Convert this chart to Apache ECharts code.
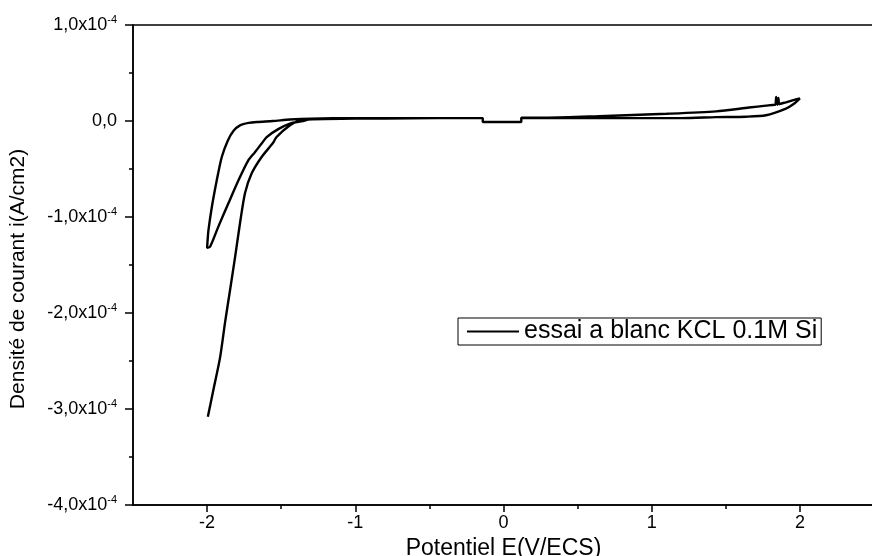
<!DOCTYPE html>
<html>
<head>
<meta charset="utf-8">
<script src="https://cdn.jsdelivr.net/npm/echarts@6/dist/echarts.min.js"></script>
<style>
html,body{margin:0;padding:0;background:#fff;}
#chart{width:872px;height:556px;}
</style>
</head>
<body>
<div id="chart"></div>
<script>
// Potential E (V/ECS) and current density (in units of 1e-4 A/cm2), three sweeps in scan order
const sweep1E = [0.12, -0.14, -0.14, -0.45, -0.8, -1.1, -1.3, -1.354, -1.441, -1.52, -1.598, -1.632, -1.68, -1.722, -1.789, -1.857, -1.924, -1.98, -2.0];
const sweep1I = [-0.01, -0.01, 0.03, 0.03, 0.025, 0.028, 0.02, 0.0, -0.027, -0.085, -0.167, -0.235, -0.33, -0.41, -0.62, -0.86, -1.10, -1.31, -1.32];

const sweep2E = [-2.0, -1.997, -1.991, -1.968, -1.935, -1.901, -1.859, -1.82, -1.778, -1.72, -1.665, -1.556, -1.441, -1.3, -1.0, -0.6, -0.14, -0.14, 0.12, 0.12, 0.4, 0.8, 1.2, 1.434, 1.636, 1.771, 1.906, 1.96, 2.0];
const sweep2I = [-1.32, -1.25, -1.14, -0.896, -0.62, -0.375, -0.20, -0.10, -0.045, -0.02, -0.01, 0.0, 0.015, 0.025, 0.03, 0.03, 0.03, -0.01, -0.01, 0.03, 0.03, 0.03, 0.03, 0.04, 0.045, 0.06, 0.13, 0.18, 0.236];

const sweep3E = [2.0, 1.95, 1.906, 1.87, 1.86, 1.855, 1.848, 1.84, 1.835, 1.83, 1.771, 1.657, 1.434, 1.1, 0.646, 0.3, 0.12, 0.12, -0.14, -0.14, -0.5, -1.0, -1.286, -1.374, -1.441, -1.531, -1.556, -1.632, -1.699, -1.744, -1.778, -1.811, -1.845, -1.879, -1.912, -1.958, -1.995];
const sweep3I = [0.236, 0.215, 0.195, 0.18, 0.175, 0.24, 0.17, 0.25, 0.17, 0.17, 0.16, 0.14, 0.10, 0.075, 0.05, 0.035, 0.035, -0.01, -0.01, 0.03, 0.03, 0.025, 0.018, 0.007, -0.045, -0.167, -0.23, -0.375, -0.545, -0.75, -1.065, -1.415, -1.76, -2.10, -2.46, -2.805, -3.08];

const xMajorTicks = [-2, -1, 0, 1, 2];
const xMinorTicks = [-1.5, -0.5, 0.5, 1.5];
const seriesName = 'essai a blanc KCL 0.1M Si';
const xTitle = 'Potentiel E(V/ECS)';
const yTitle = 'Densité de courant i(A/cm2)';

const data = [];
[[sweep1E, sweep1I], [sweep2E, sweep2I], [sweep3E, sweep3I]].forEach(([es, is]) => {
  es.forEach((e, k) => data.push([e, is[k]]));
});

const FONT = '"Liberation Sans", Arial, sans-serif';
const chart = echarts.init(document.getElementById('chart'));
chart.setOption({
  animation: false,
  backgroundColor: '#fff',
  grid: {left: 133, top: 25, width: 741, height: 480, outerBoundsMode: 'none', containLabel: false,
         show: true, borderColor: '#000', borderWidth: 1.5, backgroundColor: 'transparent'},
  legend: {
    left: 458, top: 318,
    borderColor: '#000', borderWidth: 1,
    padding: [1, 4, 1, 9],
    icon: 'rect', itemWidth: 52, itemHeight: 2,
    textStyle: {fontFamily: FONT, fontSize: 25, color: '#000'},
    data: [seriesName]
  },
  graphic: [{
    type: 'text', x: 18, y: 279, rotation: Math.PI / 2,
    style: {text: yTitle, fontFamily: FONT, fontSize: 21, fill: '#000', align: 'center', verticalAlign: 'middle'}
  }],
  xAxis: [{
    type: 'value', min: -2.5, max: 2.5,
    name: xTitle, nameLocation: 'middle', nameGap: 29,
    nameTextStyle: {fontFamily: FONT, fontSize: 23, color: '#000'},
    axisLine: {show: true, onZero: false, lineStyle: {color: '#000', width: 1.5}},
    axisTick: {show: true, length: 7, customValues: xMajorTicks, lineStyle: {color: '#000', width: 1.5}},
    axisLabel: {customValues: xMajorTicks, margin: 9, fontFamily: FONT, fontSize: 18, color: '#000'},
    splitLine: {show: false}
  }, {
    type: 'value', min: -2.5, max: 2.5, position: 'bottom',
    axisLine: {show: false, onZero: false},
    axisTick: {show: true, length: 4, customValues: xMinorTicks, lineStyle: {color: '#000', width: 1.5}},
    axisLabel: {show: false},
    splitLine: {show: false}
  }],
  yAxis: {
    type: 'value', min: -4, max: 1, interval: 1,
    axisLine: {show: true, onZero: false, lineStyle: {color: '#000', width: 1.5}},
    axisTick: {show: true, length: 8, lineStyle: {color: '#000', width: 1.5}},
    minorTick: {show: true, splitNumber: 2, length: 4, lineStyle: {color: '#000', width: 1.5}},
    axisLabel: {
      margin: 16, color: '#000',
      formatter: v => v === 0 ? '{b|0,0}' : '{b|' + v.toFixed(1).replace('.', ',') + 'x10}{s|-4}',
      rich: {
        b: {fontFamily: FONT, fontSize: 18, color: '#000'},
        s: {fontFamily: FONT, fontSize: 11, color: '#000', padding: [0, 0, 11, 0]}
      }
    },
    splitLine: {show: false},
    minorSplitLine: {show: false}
  },
  series: [{
    name: seriesName,
    type: 'line',
    data: data,
    showSymbol: false,
    symbol: 'none',
    smooth: 0.25,
    lineStyle: {color: '#000', width: 2.4},
    itemStyle: {color: '#000'}
  }]
});
</script>
</body>
</html>
